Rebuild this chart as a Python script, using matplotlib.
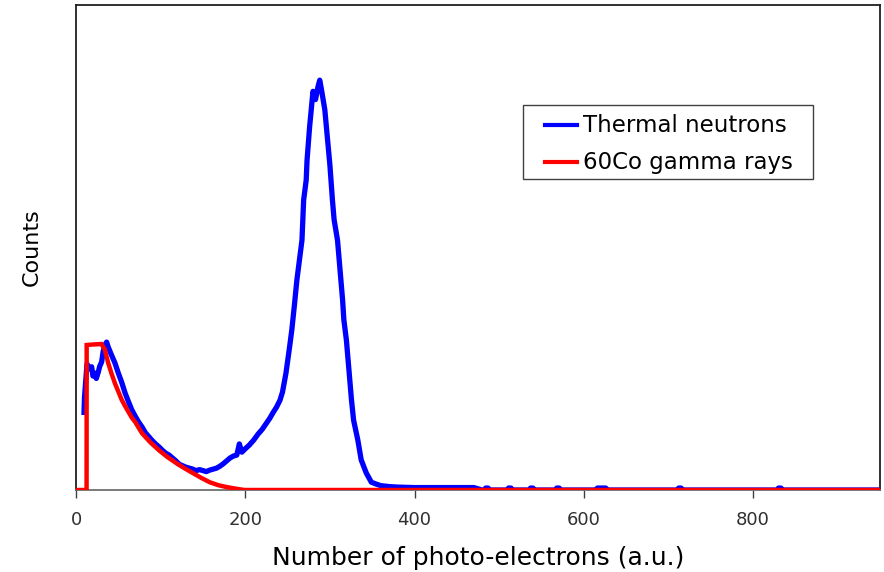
import matplotlib
matplotlib.use("Agg")
import matplotlib.pyplot as plt
from matplotlib.patches import Rectangle
from matplotlib.lines import Line2D
import numpy as np

# thermal neutron spectrum, x in photo-electrons, counts in a.u.
neutron_x = [9.5, 10, 13, 16, 18.5, 20, 22.4, 24, 26.3, 28, 30.3, 32, 34.2, 36.2, 38,
             42, 46, 50, 54, 58, 62, 66, 70, 74, 78, 82, 86, 90, 94, 98, 102, 106, 110,
             114, 118, 122, 126, 130, 134, 138, 142, 146, 150, 154, 158, 162, 166, 170,
             174, 178, 182, 186, 190, 193, 196, 200, 205, 210, 215, 220, 225, 229, 233,
             237, 241, 244, 248, 252, 255, 258, 261, 264, 267, 269, 272, 273, 276, 280,
             283, 286, 288, 290, 292, 294, 297, 300, 303, 305, 309, 311, 313, 315, 316.5,
             319.5, 321.5, 323.5, 325.5, 328, 333, 337, 343, 349, 355, 360, 370, 380, 400,
             410, 470, 480,
             484, 484, 487, 487, 511, 511, 514, 514, 537, 537, 540, 540, 568, 568, 571, 571,
             616, 616, 626, 626, 712, 712, 715, 715, 830, 830, 833, 833, 950]
neutron_y = [160, 190, 260, 250, 254, 235, 241, 230, 243, 255, 264, 285, 299, 305, 295,
             278, 262, 241, 222, 200, 182, 165, 152, 140, 130, 118, 110, 102, 95, 89, 82,
             76, 72, 66, 60, 53, 50, 47, 45, 43, 40, 42, 40, 38, 41, 43, 45, 49,
             54, 60, 66, 70, 72, 95, 78, 85, 93, 103, 115, 125, 138, 148, 160,
             171, 185, 202, 240, 290, 330, 380, 433, 474, 515, 598, 639, 680, 748, 822,
             805, 832, 845, 826, 805, 784, 728, 670, 598, 557, 515, 474, 433, 392, 351,
             309, 268, 227, 186, 144, 103, 62, 35, 16, 12, 9, 7, 6, 5,
             5, 5, 0,
             0, 4, 4, 0, 0, 4, 4, 0, 0, 4, 4, 0, 0, 4, 4, 0,
             0, 4, 4, 0, 0, 4, 4, 0, 0, 4, 4, 0, 0]

# 60Co gamma ray spectrum
gamma_x = [0, 12.5, 12.6, 20, 30, 34, 38, 42, 46, 50, 54, 58, 62, 66, 70, 78, 88, 98,
           108, 118, 128, 138, 148, 158, 168, 178, 188, 199, 950]
gamma_y = [0, 0, 299, 300, 301, 290, 262, 240, 220, 203, 186, 173, 161, 149, 140, 117,
           98, 82, 68, 56, 45, 35, 25, 16, 10, 6, 3, 0, 0]

xticks = [0, 200, 400, 600, 800]
labels = ["Thermal neutrons", "60Co gamma rays"]
colors = ["#0000ff", "#ff0000"]

plt.rcParams["font.family"] = "DejaVu Sans"

fig = plt.figure(figsize=(8.84, 5.72), dpi=100)
ax = fig.add_axes([76 / 884, 82 / 572, 804 / 884, 485 / 572])

ax.plot(neutron_x, neutron_y, color=colors[0], lw=3.8, solid_joinstyle="round", zorder=2)
ax.plot(gamma_x, gamma_y, color=colors[1], lw=3.2, solid_joinstyle="miter", zorder=3)

ax.set_xlim(0, 950)
ax.set_ylim(0, 1000)
ax.set_xticks(xticks)
ax.set_yticks([])
ax.tick_params(axis="x", direction="out", length=6, width=1, color="#404040",
               labelsize=13, labelcolor="#303030", pad=9)
for s in ax.spines.values():
    s.set_color("#202020")
    s.set_linewidth(1.3)
ax.spines["bottom"].set_color("#707070")

ax.set_xlabel("Number of photo-electrons (a.u.)", fontsize=18, labelpad=12)
ax.set_ylabel("Counts", fontsize=16, labelpad=25)

# legend box drawn by hand to match the original spacing
tf = fig.transFigure
fig.add_artist(Rectangle((523 / 884, 1 - 179 / 572), 290 / 884, 74 / 572, transform=tf,
                         facecolor="white", edgecolor="#404040", lw=1.0, zorder=5))
for i, (lab, c) in enumerate(zip(labels, colors)):
    yy = 1 - (125 + 37 * i) / 572
    fig.add_artist(Line2D([545 / 884, 577 / 884], [yy, yy], transform=tf, color=c,
                          lw=3, zorder=6))
    fig.text(583 / 884, yy, lab, fontsize=16.5, va="center", ha="left", zorder=6)

fig.savefig("out.png", dpi=100)
